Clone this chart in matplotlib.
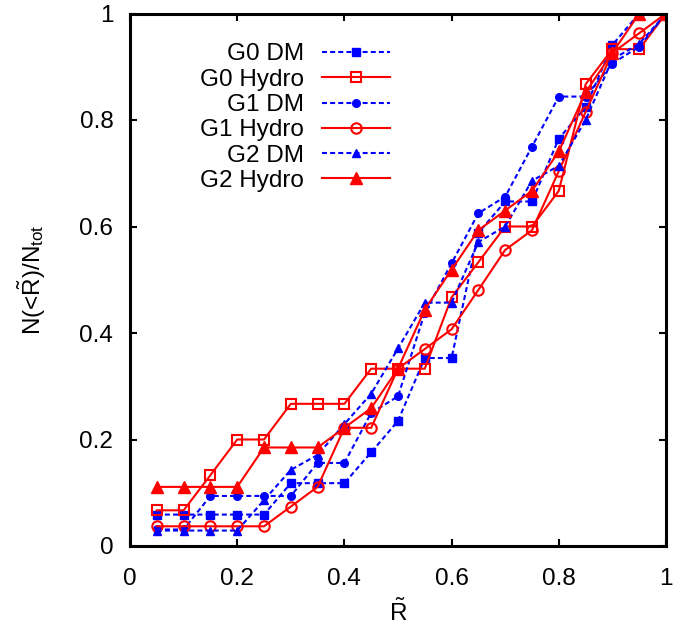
import numpy as np
import matplotlib.pyplot as plt

plt.rcParams['font.family'] = ['Liberation Sans', 'DejaVu Sans']
plt.rcParams['mathtext.fontset'] = 'custom'
plt.rcParams['mathtext.rm'] = 'Liberation Sans'
plt.rcParams['mathtext.it'] = 'Liberation Sans:italic'

# radius bins (R tilde)
r = [0.05, 0.10, 0.15, 0.20, 0.25, 0.30, 0.35, 0.40, 0.45, 0.50,
     0.55, 0.60, 0.65, 0.70, 0.75, 0.80, 0.85, 0.90, 0.95, 1.00]

# cumulative fractions
g0_dm = [0.059, 0.059, 0.059, 0.059, 0.059, 0.118, 0.118, 0.118, 0.176, 0.235,
         0.353, 0.353, 0.588, 0.647, 0.647, 0.765, 0.824, 0.941, 1.000, 1.000]
g0_hydro = [0.067, 0.067, 0.133, 0.200, 0.200, 0.267, 0.267, 0.267, 0.333, 0.333,
            0.333, 0.467, 0.533, 0.600, 0.600, 0.667, 0.867, 0.933, 0.933, 1.000]
g1_dm = [0.031, 0.031, 0.094, 0.094, 0.094, 0.094, 0.156, 0.156, 0.250, 0.281,
         0.438, 0.531, 0.625, 0.656, 0.750, 0.844, 0.844, 0.906, 0.938, 1.000]
g1_hydro = [0.037, 0.037, 0.037, 0.037, 0.037, 0.074, 0.111, 0.222, 0.222, 0.333,
            0.370, 0.407, 0.481, 0.556, 0.593, 0.704, 0.815, 0.926, 0.963, 1.000]
g2_dm = [0.029, 0.029, 0.029, 0.029, 0.086, 0.143, 0.171, 0.229, 0.286, 0.371,
         0.457, 0.457, 0.571, 0.600, 0.686, 0.714, 0.800, 0.914, 0.943, 1.000]
g2_hydro = [0.111, 0.111, 0.111, 0.111, 0.185, 0.185, 0.185, 0.222, 0.259, 0.333,
            0.444, 0.519, 0.593, 0.630, 0.667, 0.741, 0.852, 0.926, 1.000, 1.000]

blue = '#0000ff'
red = '#ff0000'
dash = (2.4, 1.5)

fig = plt.figure(figsize=(6.87, 6.28), dpi=100)
ax = fig.add_axes([130/687, 1-546/628, 536/687, 532.5/628])

ax.plot(r, g0_dm, color=blue, lw=1.5, dashes=dash, marker='s', ms=5.5,
        label='G0 DM')
ax.plot(r, g0_hydro, color=red, lw=1.5, marker='s', ms=7.5, mfc='none',
        mew=1.5, label='G0 Hydro')
ax.plot(r, g1_dm, color=blue, lw=1.5, dashes=dash, marker='o', ms=5.5,
        label='G1 DM')
ax.plot(r, g1_hydro, color=red, lw=1.5, marker='o', ms=7.5, mfc='none',
        mew=1.5, label='G1 Hydro')
ax.plot(r, g2_dm, color=blue, lw=1.5, dashes=dash, marker='^', ms=5.5,
        label='G2 DM')
ax.plot(r, g2_hydro, color=red, lw=1.5, marker='^', ms=8.5,
        label='G2 Hydro')

ax.set_xlim(0, 1)
ax.set_ylim(0, 1)
ticks = [0, 0.2, 0.4, 0.6, 0.8, 1]
labels = ['0', '0.2', '0.4', '0.6', '0.8', '1']
ax.set_xticks(ticks)
ax.set_xticklabels(labels)
ax.set_yticks(ticks)
ax.set_yticklabels(labels)
ax.tick_params(direction='in', length=5, width=1.5, top=True, right=True,
               labelsize=17.5)
ax.tick_params(axis='y', pad=12)
ax.tick_params(axis='x', pad=16)
for s in ax.spines.values():
    s.set_linewidth(2.2)

ax.set_xlabel(r'$\mathrm{\tilde{R}}$', fontsize=17.5, labelpad=6)
ax.set_ylabel(r'N(<$\mathrm{\tilde{R}}$)/N$_{\mathrm{tot}}$', fontsize=17.5,
              labelpad=23)

leg = ax.legend(loc='upper left', bbox_to_anchor=(0.1125, 0.962), frameon=False,
                markerfirst=False, fontsize=17.5, handlelength=2.8,
                handletextpad=0.75, labelspacing=0.135, borderaxespad=0)

fig.savefig('out.png', dpi=100)
